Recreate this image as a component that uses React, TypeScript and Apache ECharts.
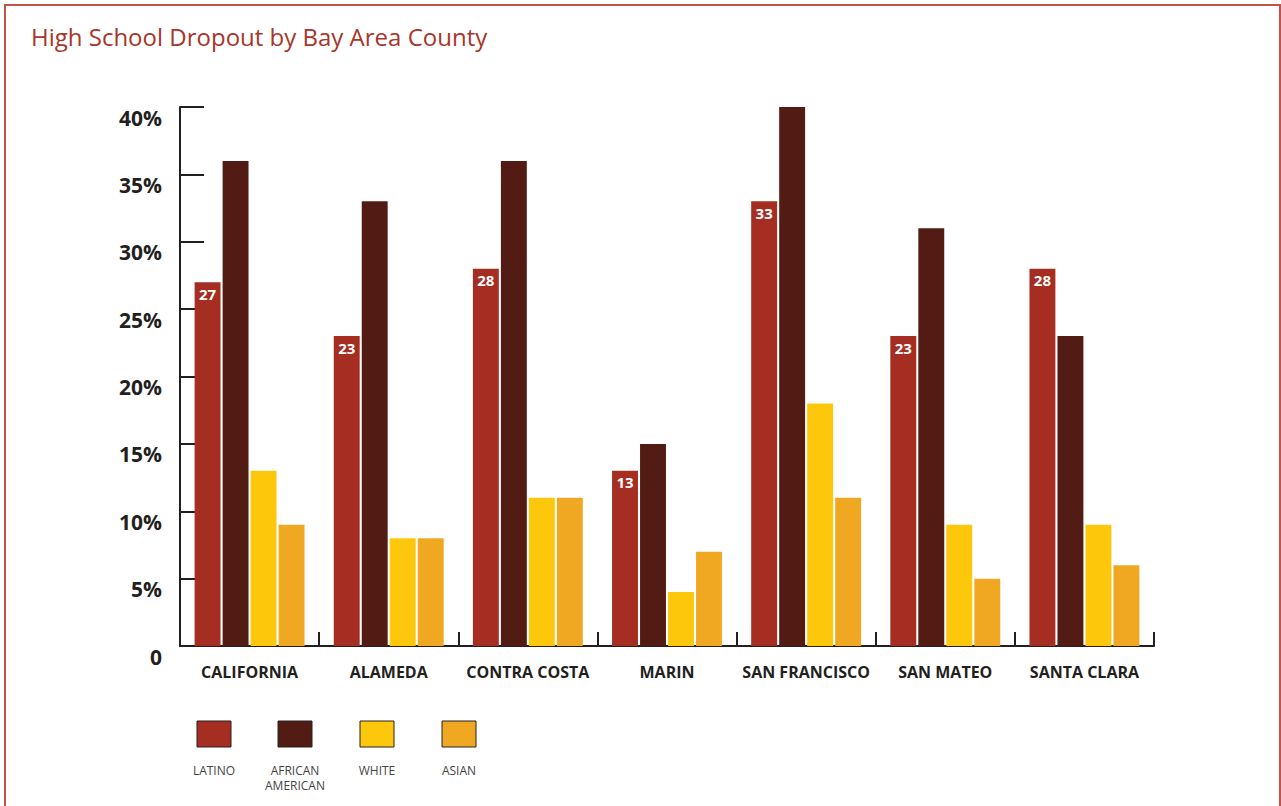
import React, { useEffect, useRef } from "react";
import * as echarts from "echarts";

const counties = ["CALIFORNIA", "ALAMEDA", "CONTRA COSTA", "MARIN", "SAN FRANCISCO", "SAN MATEO", "SANTA CLARA"];
const latino = [27, 23, 28, 13, 33, 23, 28];
const africanAmerican = [36, 33, 36, 15, 40, 31, 23];
const white = [13, 8, 11, 4, 18, 9, 9];
const asian = [9, 8, 11, 7, 11, 5, 6];
const seriesNames = ["LATINO", "AFRICAN\nAMERICAN", "WHITE", "ASIAN"];
const colors = ["#a52d21", "#521c15", "#fdc80c", "#f0a823"];

const FONT = "'Open Sans', Lato, sans-serif";

export default function App() {
  const ref = useRef<HTMLDivElement>(null);
  useEffect(() => {
    if (!ref.current) return;
    const chart = echarts.init(ref.current, null, { renderer: "svg" });
    const dataSets = [latino, africanAmerican, white, asian];
    const legendX = [197, 278, 360, 442];
    const legendGraphics: any[] = [];
    seriesNames.forEach((n, i) => {
      legendGraphics.push({
        type: "rect",
        shape: { x: legendX[i], y: 721, width: 34, height: 26 },
        style: { fill: colors[i], stroke: "#222", lineWidth: 1 },
      });
      legendGraphics.push({
        type: "text",
        x: legendX[i] + 17,
        y: 763,
        style: {
          text: n,
          fill: "#444444",
          font: "12px " + FONT,
          align: "center",
          verticalAlign: "top",
          lineHeight: 15,
        },
      });
    });
    chart.setOption({
      animation: false,
      backgroundColor: "#ffffff",
      title: {
        text: "High School Dropout by Bay Area County",
        left: 26,
        top: 19,
        textStyle: { color: "#a8352b", fontSize: 24, fontWeight: "normal", fontFamily: FONT },
      },
      grid: { left: 180, right: 127, top: 107, bottom: 160, containLabel: false },
      xAxis: {
        type: "category",
        data: counties,
        axisLine: { lineStyle: { color: "#231f20", width: 2 } },
        axisTick: { show: true, inside: true, length: 14, lineStyle: { color: "#231f20", width: 2 } },
        axisLabel: { interval: 0, color: "#231f20", fontWeight: "bold", fontSize: 16, margin: 18, fontFamily: FONT },
      },
      yAxis: {
        type: "value",
        min: 0,
        max: 40,
        interval: 5,
        axisLine: { show: true, lineStyle: { color: "#231f20", width: 2 } },
        axisTick: { show: true, inside: true, length: 24, lineStyle: { color: "#231f20", width: 2 } },
        splitLine: { show: false },
        axisLabel: {
          color: "#231f20",
          fontWeight: "bold",
          fontSize: 21,
          margin: 18,
          verticalAlign: "top",
          fontFamily: FONT,
          formatter: (v: number) => (v === 0 ? "0" : v + "%"),
        },
      },
      series: dataSets.map((d, i) => ({
        name: seriesNames[i],
        type: "bar",
        data: d,
        barGap: "8%",
        barCategoryGap: "21%",
        itemStyle: { color: colors[i] },
        label:
          i === 0
            ? {
                show: true,
                position: "insideTop",
                distance: 4,
                color: "#ffffff",
                fontWeight: "bold",
                fontSize: 15,
                fontFamily: FONT,
              }
            : { show: false },
      })),
      graphic: [
        {
          type: "rect",
          shape: { x: 5, y: 5, width: 1275, height: 830 },
          style: { fill: "none", stroke: "#c3524a", lineWidth: 2 },
          z: 100,
        },
        ...legendGraphics,
      ],
    });
    return () => chart.dispose();
  }, []);
  return <div ref={ref} style={{ position: "absolute", left: 0, top: 0, width: 1281, height: 806 }} />;
}
